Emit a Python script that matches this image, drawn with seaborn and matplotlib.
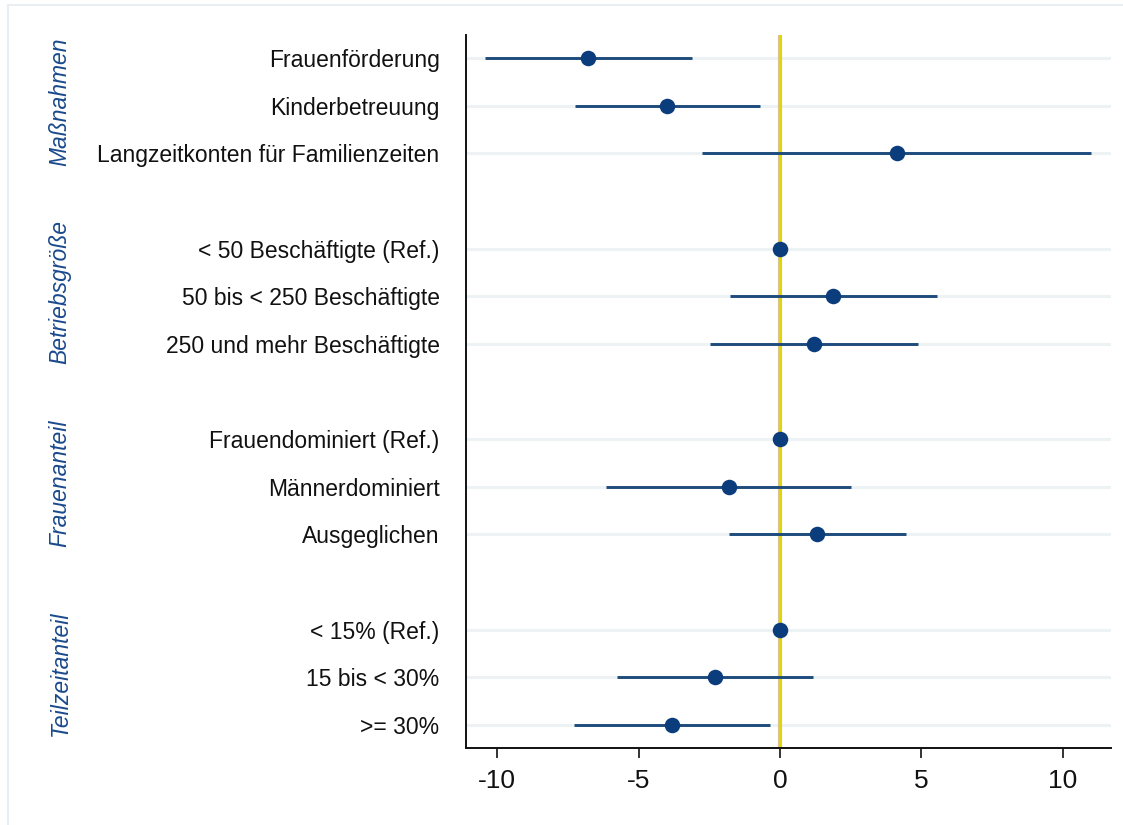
import numpy as np
import pandas as pd
import matplotlib
matplotlib.use("Agg")
import matplotlib.pyplot as plt
import matplotlib.transforms as mtransforms
from matplotlib.lines import Line2D
import seaborn as sns

# ---- data ----
groups = ["Maßnahmen", "Betriebsgröße", "Frauenanteil", "Teilzeitanteil"]
labels = [
    ["Frauenförderung", "Kinderbetreuung", "Langzeitkonten für Familienzeiten"],
    ["< 50 Beschäftigte (Ref.)", "50 bis < 250 Beschäftigte", "250 und mehr Beschäftigte"],
    ["Frauendominiert (Ref.)", "Männerdominiert", "Ausgeglichen"],
    ["< 15% (Ref.)", "15 bis < 30%", ">= 30%"],
]
estimate = [-6.77, -4.0, 4.15, 0.0, 1.88, 1.21, 0.0, -1.82, 1.32, 0.0, -2.30, -3.82]
ci_low = [-10.42, -7.23, -2.76, 0.0, -1.77, -2.47, 0.0, -6.15, -1.82, 0.0, -5.75, -7.29]
ci_high = [-3.11, -0.71, 11.0, 0.0, 5.55, 4.89, 0.0, 2.52, 4.47, 0.0, 1.18, -0.37]
xticks = [-10, -5, 0, 5, 10]

# ---- build frame with row positions (one empty slot between groups) ----
rows = []
pos = 0
group_pos = []
for g, labs in zip(groups, labels):
    start = pos
    for lab in labs:
        rows.append((g, lab, pos))
        pos += 1
    group_pos.append((g, (start + pos - 1) / 2))
    pos += 1
df = pd.DataFrame(rows, columns=["group", "label", "y"])
df["est"] = estimate
df["lo"] = ci_low
df["hi"] = ci_high

sns.set_theme(style="white")
plt.rcParams["font.family"] = ["Liberation Sans", "DejaVu Sans"]

fig = plt.figure(figsize=(11.23, 8.25), dpi=100)
ax = fig.add_axes([466 / 1123, 1 - 748 / 825, (1111 - 466) / 1123, (748 - 35) / 825])

ax.set_xlim(-11.1, 11.7)
ax.set_ylim(14.48, -0.48)

# light horizontal gridlines at rows
ax.set_yticks(df["y"])
ax.set_yticklabels(df["label"], fontsize=16.5, color="#111111")
ax.grid(axis="y", color="#edf2f5", linewidth=2.2)
ax.grid(axis="x", visible=False)
ax.set_axisbelow(True)

# zero line (yellow with tan edges)
ax.axvline(0, color="#dcc58a", linewidth=3.0, zorder=2)
ax.axvline(0, color="#e0d800", linewidth=2.0, zorder=2.1)

# confidence intervals
ax.hlines(df["y"], df["lo"], df["hi"], color="#1e4b7c", linewidth=2.1, zorder=3)

# point estimates
sns.scatterplot(data=df, x="est", y="y", ax=ax, s=125, color="#0b3d7d",
                edgecolor="#0b3d7d", linewidth=0, zorder=4, legend=False)

ax.set_xlabel("")
ax.set_ylabel("")
ax.set_xticks(xticks)
ax.set_xticklabels([str(t) for t in xticks], fontsize=19, color="#111111")

for side in ["top", "right"]:
    ax.spines[side].set_visible(False)
for side in ["left", "bottom"]:
    ax.spines[side].set_color("#111111")
    ax.spines[side].set_linewidth(1.4)

ax.tick_params(axis="y", length=0, pad=19)
ax.tick_params(axis="x", length=7, width=1.2, color="#111111", pad=8, bottom=True)

# group labels
trans = mtransforms.blended_transform_factory(fig.transFigure, ax.transData)
for g, yc in group_pos:
    ax.text(60 / 1123, yc - 0.08, g, transform=trans, rotation=90, ha="center",
            va="center", fontsize=16.5, style="italic", color="#1a4a8c", clip_on=False)

# faint outer frame (top and left edges visible)
fig.add_artist(Line2D([8 / 1123, 8 / 1123], [0, 1 - 5 / 825], transform=fig.transFigure,
                      color="#e8eef2", linewidth=1.5))
fig.add_artist(Line2D([8 / 1123, 1], [1 - 5 / 825, 1 - 5 / 825], transform=fig.transFigure,
                      color="#e8eef2", linewidth=1.5))

fig.savefig("out.png", dpi=100)
